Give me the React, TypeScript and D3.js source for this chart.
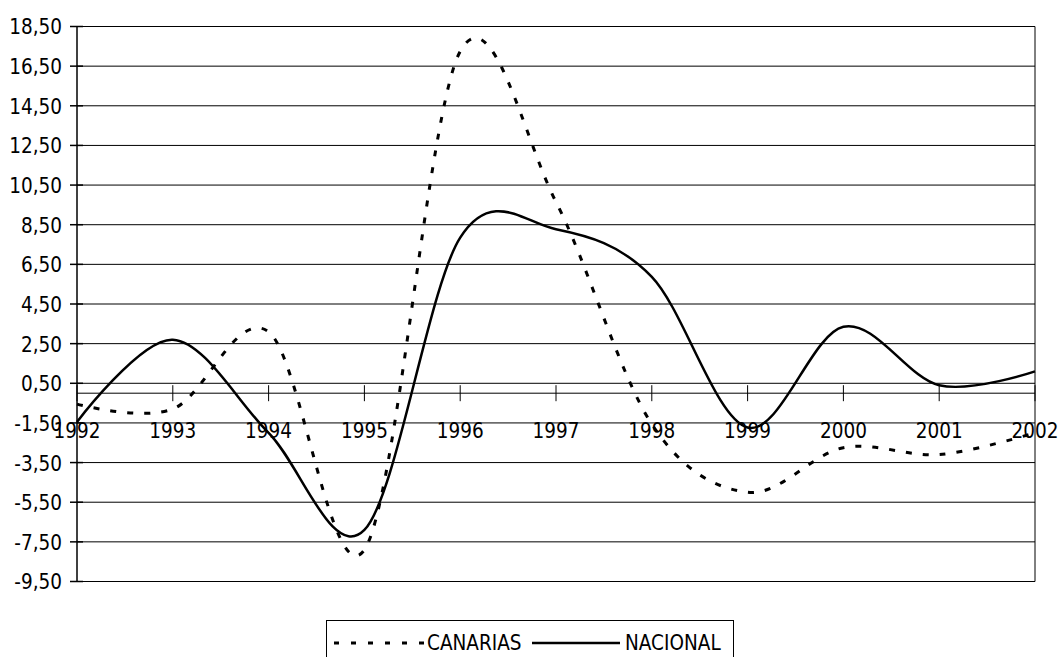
import React from 'react';
import * as d3 from 'd3';

const years = ['1992', '1993', '1994', '1995', '1996', '1997', '1998', '1999', '2000', '2001', '2002'];
const canarias = [-0.55, -0.8, 3.1, -7.9, 17.25, 9.65, -1.56, -5.0, -2.75, -3.1, -2.0];
const nacional = [-1.45, 2.7, -2.0, -6.9, 7.85, 8.27, 5.87, -1.73, 3.35, 0.4, 1.1];
const yTicks = [-9.5, -7.5, -5.5, -3.5, -1.5, 0.5, 2.5, 4.5, 6.5, 8.5, 10.5, 12.5, 14.5, 16.5, 18.5];

const font = "'DejaVu Sans', sans-serif";

// narrow text: DejaVu squeezed horizontally to look like the reference's Tahoma-like face
const T: React.FC<{ x: number; y: number; anchor?: string; dy?: string; children: React.ReactNode }> = ({ x, y, anchor = 'start', dy, children }) => (
  <text transform={`translate(${x},${y}) scale(0.84,1)`} dy={dy} textAnchor={anchor} fontSize={22} fill="#000">{children}</text>
);

const App: React.FC = () => {
  const width = 1059;
  const height = 657;
  const left = 77;
  const right = 1035;
  const top = 26.5;
  const bottom = 581.5;

  const x = d3.scalePoint<string>().domain(years).range([left, right]);
  const y = d3.scaleLinear().domain([-9.5, 18.5]).range([bottom, top]);

  const line = d3.line<number>()
    .x((_, i) => x(years[i])!)
    .y(d => y(d))
    .curve(d3.curveCatmullRom.alpha(0));

  const fmt = (v: number) => v.toFixed(2).replace('.', ',');
  const y0 = y(0);

  return (
    <svg width={width} height={height}
      style={{ position: 'absolute', left: 0, top: 0, background: '#fff' }}
      fontFamily={font}>
      {/* gridlines */}
      {yTicks.map(t => (
        <line key={t} x1={left} x2={right} y1={y(t)} y2={y(t)} stroke="#000" strokeWidth={1} />
      ))}
      {/* plot border left/right */}
      <line x1={left} x2={left} y1={top} y2={bottom} stroke="#000" strokeWidth={1.5} />
      <line x1={right} x2={right} y1={top} y2={bottom} stroke="#000" strokeWidth={1} />
      {/* y ticks and labels */}
      {yTicks.map(t => (
        <g key={'yt' + t}>
          <line x1={left - 7} x2={left + 6} y1={y(t)} y2={y(t)} stroke="#000" strokeWidth={1.5} />
          <T x={62} y={y(t)} dy="0.36em" anchor="end">{fmt(t)}</T>
        </g>
      ))}
      {/* x axis at zero */}
      <line x1={left} x2={right} y1={y0} y2={y0} stroke="#000" strokeWidth={1} />
      {years.map(yr => (
        <g key={yr}>
          <line x1={x(yr)!} x2={x(yr)!} y1={y0 - 8} y2={y0 + 8} stroke="#000" strokeWidth={1} />
          <T x={x(yr)!} y={438} anchor="middle">{yr}</T>
        </g>
      ))}
      {/* series */}
      <path d={line(canarias) ?? ''} fill="none" stroke="#000" strokeWidth={3} strokeDasharray="6 11" />
      <path d={line(nacional) ?? ''} fill="none" stroke="#000" strokeWidth={2.5} />
      {/* legend */}
      <rect x={326.5} y={620.5} width={407} height={50} fill="#fff" stroke="#000" strokeWidth={1} />
      <line x1={334} x2={425} y1={643} y2={643} stroke="#000" strokeWidth={3} strokeDasharray="5 12" />
      <T x={427} y={650}>CANARIAS</T>
      <line x1={532} x2={620} y1={643} y2={643} stroke="#000" strokeWidth={2.5} />
      <T x={625} y={650}>NACIONAL</T>
    </svg>
  );
};

export default App;
